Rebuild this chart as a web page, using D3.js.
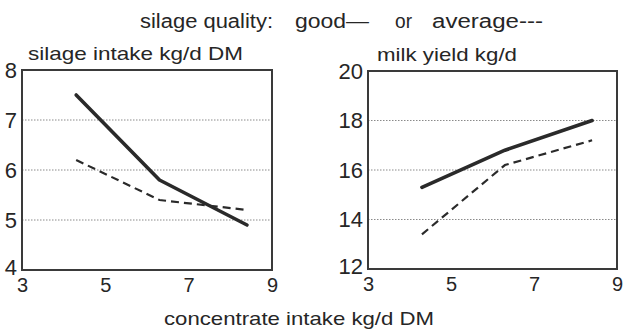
<!DOCTYPE html>
<html>
<head>
<meta charset="utf-8">
<script src="https://cdn.jsdelivr.net/npm/d3@7/dist/d3.min.js"></script>
<style>
  html, body { margin: 0; padding: 0; background: #fff; }
  svg { display: block; }
  text { font-family: "Liberation Sans", Arial, sans-serif; fill: #262626; }
</style>
</head>
<body>
<svg id="chart" width="624" height="334"></svg>
<script>
// ---- data ----
const concentrate = [4.3, 6.3, 8.4];          // kg/d DM
const intakeGood = [7.5, 5.8, 4.9];           // silage intake kg/d DM, good silage
const intakeAverage = [6.2, 5.4, 5.2];        // silage intake kg/d DM, average silage
const milkGood = [15.3, 16.8, 18.0];          // milk yield kg/d, good silage
const milkAverage = [13.4, 16.2, 17.2];       // milk yield kg/d, average silage
const xTicks = [3, 5, 7, 9];
const intakeTicks = [4, 5, 6, 7, 8];
const milkTicks = [12, 14, 16, 18, 20];
const intakeGrid = [5, 6, 7];
const milkGrid = [14, 16, 18];

const svg = d3.select("#chart");
const ink = "#2a2a2a";
const fmt = d3.format("d");

// ---- legend / shared texts ----
function label(txt, x, y, size, len) {
  const t = svg.append("text").attr("x", x).attr("y", y)
    .attr("font-size", size).text(txt);
  if (len) t.attr("textLength", len).attr("lengthAdjust", "spacingAndGlyphs");
  return t;
}
label("silage quality:", 140, 28, 20, 133);
label("good\u2014", 295, 28, 20, 74);
label("or", 395, 28, 20, 17);
label("average---", 432, 28, 20, 111);
label("concentrate intake kg/d DM", 164, 325, 19, 270);

// ---- panels ----
function panel(cfg) {
  const g = svg.append("g");
  const x = d3.scaleLinear().domain([3, 9]).range([cfg.x0, cfg.x1]);
  const y = d3.scaleLinear().domain(cfg.yDomain).range([cfg.y1, cfg.y0]);

  // gridlines
  g.selectAll(".grid").data(cfg.grid).enter().append("line")
    .attr("x1", cfg.x0).attr("x2", cfg.x1)
    .attr("y1", d => y(d)).attr("y2", d => y(d))
    .attr("stroke", "#8a8a8a").attr("stroke-width", 1)
    .attr("stroke-dasharray", "1.5,1.5");

  // frame
  g.append("rect").attr("x", cfg.x0).attr("y", cfg.y0)
    .attr("width", cfg.x1 - cfg.x0).attr("height", cfg.y1 - cfg.y0)
    .attr("fill", "none").attr("stroke", "#3a3a3a").attr("stroke-width", 2);

  // axes (labels only)
  const ax = g.append("g").attr("transform", `translate(0,${cfg.y1})`)
    .call(d3.axisBottom(x).tickValues(xTicks).tickFormat(fmt).tickSize(0).tickPadding(8));
  ax.select(".domain").remove();
  ax.selectAll("text").attr("font-size", 20).attr("fill", ink)
    .attr("font-family", "Liberation Sans, Arial, sans-serif");

  const ay = g.append("g").attr("transform", `translate(${cfg.x0},0)`)
    .call(d3.axisLeft(y).tickValues(cfg.yTicks).tickFormat(fmt).tickSize(0).tickPadding(5));
  ay.select(".domain").remove();
  ay.selectAll("text").attr("font-size", 22).attr("fill", ink)
    .attr("font-family", "Liberation Sans, Arial, sans-serif")
    .attr("dy", (d, i) => i === 0 ? "0.2em" : "0.32em");

  // title
  label(cfg.title, cfg.tx, cfg.ty, 19, cfg.tlen);

  const line = d3.line().x((d, i) => x(concentrate[i])).y(d => y(d));
  g.append("path").datum(cfg.avg).attr("d", line)
    .attr("fill", "none").attr("stroke", ink).attr("stroke-width", 2.2)
    .attr("stroke-dasharray", "8,5");
  g.append("path").datum(cfg.good).attr("d", line)
    .attr("fill", "none").attr("stroke", ink).attr("stroke-width", 3.6)
    .attr("stroke-linecap", "round").attr("stroke-linejoin", "round");
}

panel({x0: 22, x1: 272, y0: 70, y1: 270, yDomain: [4, 8], yTicks: intakeTicks,
       grid: intakeGrid, good: intakeGood, avg: intakeAverage,
       title: "silage intake kg/d DM", tx: 28, ty: 60, tlen: 215});
panel({x0: 368, x1: 617, y0: 71, y1: 269, yDomain: [12, 20], yTicks: milkTicks,
       grid: milkGrid, good: milkGood, avg: milkAverage,
       title: "milk yield kg/d", tx: 377, ty: 61, tlen: 140});
</script>
</body>
</html>
